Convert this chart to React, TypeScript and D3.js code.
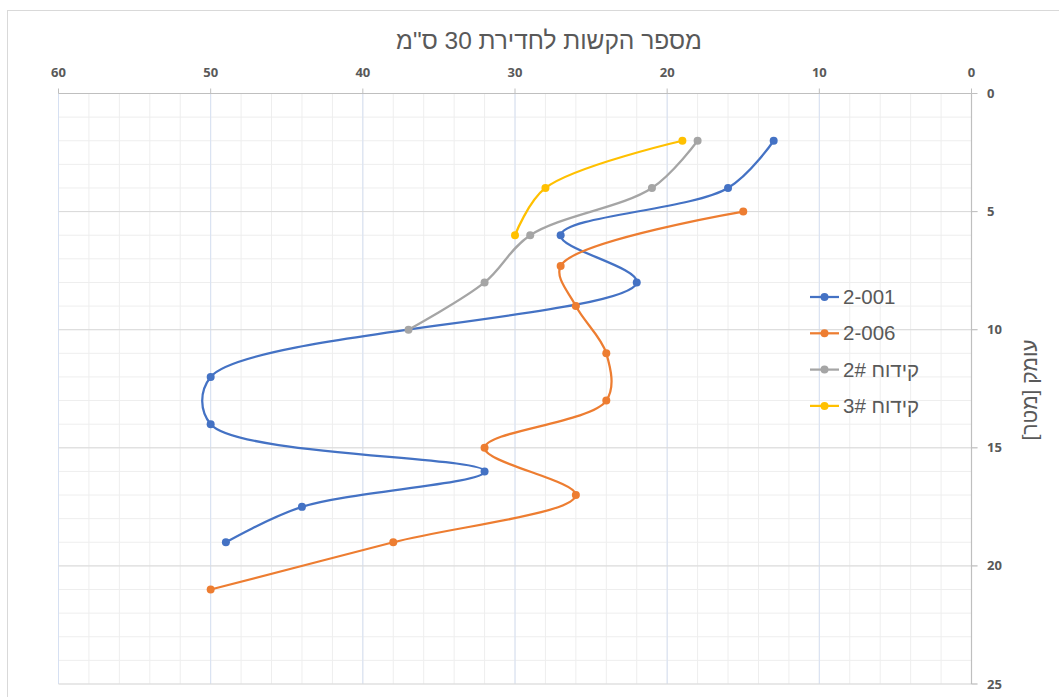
import React from "react";
import * as d3 from "d3";

const xTicks = [60, 50, 40, 30, 20, 10, 0];
const yTicks = [0, 5, 10, 15, 20, 25];
const xMinor = d3.range(0, 61, 2);
const yMinor = d3.range(0, 26, 1);

const s1Name = "2-001";
const s1X = [13, 16, 27, 22, 50, 50, 32, 44, 49];
const s1Y = [2, 4, 6, 8, 12, 14, 16, 17.5, 19];

const s2Name = "2-006";
const s2X = [15, 27, 26, 24, 24, 32, 26, 38, 50];
const s2Y = [5, 7.3, 9, 11, 13, 15, 17, 19, 21];

const s3Name = "2# קידוח";
const s3X = [18, 21, 29, 32, 37];
const s3Y = [2, 4, 6, 8, 10];

const s4Name = "3# קידוח";
const s4X = [19, 28, 30];
const s4Y = [2, 4, 6];

const colors = ["#4472C4", "#ED7D31", "#A5A5A5", "#FFC000"];
const series = [
  { name: s1Name, xs: s1X, ys: s1Y },
  { name: s2Name, xs: s2X, ys: s2Y },
  { name: s3Name, xs: s3X, ys: s3Y },
  { name: s4Name, xs: s4X, ys: s4Y },
];

const title = 'מספר הקשות לחדירת 30 ס"מ';
const yTitle = "עומק [מטר]";

export default function App() {
  const W = 1059, H = 697;
  const left = 58.5, right = 971.5, top = 93.5, bottom = 684;
  const x = d3.scaleLinear().domain([60, 0]).range([left, right]);
  const y = d3.scaleLinear().domain([0, 25]).range([top, bottom]);
  const line = d3
    .line<[number, number]>()
    .x((d) => x(d[0]))
    .y((d) => y(d[1]))
    .curve(d3.curveCatmullRom.alpha(0.5));
  const tickFont = "'Open Sans', 'DejaVu Sans', sans-serif";
  const textFont = "'Liberation Sans', Arial, sans-serif";
  return (
    <svg
      width={W}
      height={H}
      style={{ position: "absolute", left: 0, top: 0 }}
    >
      <rect x={0} y={0} width={W} height={H} fill="#fff" />
      <rect x={7.5} y={10.5} width={1200} height={900} fill="#fff" stroke="#d9d9d9" />
      {/* minor gridlines */}
      {xMinor.map((v) => (
        <line key={"xm" + v} x1={x(v)} x2={x(v)} y1={top} y2={bottom} stroke="#eeeeee" strokeWidth={1} />
      ))}
      {yMinor.map((v) => (
        <line key={"ym" + v} x1={left} x2={right} y1={y(v)} y2={y(v)} stroke="#eeeeee" strokeWidth={1} />
      ))}
      {/* major gridlines */}
      {xTicks.filter((v) => v !== 0).map((v) => (
        <line key={"xM" + v} x1={x(v)} x2={x(v)} y1={top} y2={bottom} stroke="#d6e0f2" strokeWidth={1} />
      ))}
      {yTicks.filter((v) => v !== 0).map((v) => (
        <line key={"yM" + v} x1={left} x2={right + 6} y1={y(v)} y2={y(v)} stroke="#d9d9d9" strokeWidth={1} />
      ))}
      {/* axes */}
      <line x1={left} x2={right} y1={top} y2={top} stroke="#bfbfbf" strokeWidth={1.2} />
      <line x1={right} x2={right} y1={top} y2={bottom} stroke="#bfbfbf" strokeWidth={1.2} />
      {xTicks.map((v) => (
        <g key={"xt" + v}>
          <line x1={x(v)} x2={x(v)} y1={top - 5} y2={top} stroke="#bfbfbf" />
          <text x={x(v)} y={77} textAnchor="middle" fontFamily={tickFont} fontWeight="bold" fontSize={13} fill="#595959">
            {v}
          </text>
        </g>
      ))}
      {yTicks.map((v) => (
        <g key={"yt" + v}>
          <line x1={right} x2={right + 6} y1={y(v)} y2={y(v)} stroke="#bfbfbf" />
          <text x={987} y={y(v)} dy="0.35em" textAnchor="start" fontFamily={tickFont} fontWeight="bold" fontSize={13} fill="#595959">
            {v}
          </text>
        </g>
      ))}
      {/* series */}
      {series.map((s, i) => {
        const pts = s.xs.map((v, j) => [v, s.ys[j]] as [number, number]);
        return (
          <g key={s.name}>
            <path d={line(pts) || ""} fill="none" stroke={colors[i]} strokeWidth={2.25} />
            {pts.map((p, j) => (
              <circle key={j} cx={x(p[0])} cy={y(p[1])} r={4} fill={colors[i]} />
            ))}
          </g>
        );
      })}
      {/* legend */}
      {series.map((s, i) => {
        const ly = 297 + i * 36.3;
        return (
          <g key={"lg" + i}>
            <line x1={810} x2={839} y1={ly} y2={ly} stroke={colors[i]} strokeWidth={2.25} />
            <circle cx={824.5} cy={ly} r={4} fill={colors[i]} />
            <text x={843} y={ly} dy="0.35em" fontFamily={textFont} fontSize={20.5} fill="#595959">
              {s.name}
            </text>
          </g>
        );
      })}
      {/* titles */}
      <text x={549} y={40} dy="0.35em" textAnchor="middle" direction="rtl" fontFamily={textFont} fontSize={24.5} fill="#595959">
        {title}
      </text>
      <text
        transform="translate(1030,390) rotate(-90)"
        textAnchor="middle"
        dy="0.35em"
        direction="rtl"
        fontFamily={textFont}
        fontSize={21}
        fill="#595959"
      >
        {yTitle}
      </text>
    </svg>
  );
}
